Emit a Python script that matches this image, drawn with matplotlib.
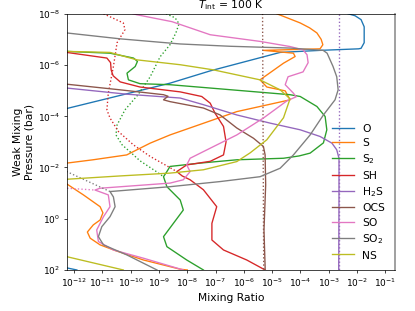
import numpy as np
import matplotlib
matplotlib.use("Agg")
import matplotlib.pyplot as plt
from matplotlib.ticker import NullLocator

# profiles: log10(pressure / bar) and log10(mixing ratio)
o_logp = [-8.00, -7.92, -7.77, -7.49, -6.87, -6.65, -6.63, -6.57, -6.49, -5.77, -5.29, -4.30, -3.5, 0.0, 1.5, 1.92, 2.00]
o_logx = [-2.32, -2.07, -1.86, -1.75, -1.75, -1.86, -1.95, -3.31, -4.72, -7.19, -8.61, -12.26, -13.5, -14.0, -13.0, -12.25, -11.9]

s_logp = [-8.00, -7.64, -7.45, -7.25, -7.00, -6.79, -6.63, -6.57, -6.46, -6.33, -6.07, -5.42, -5.14, -4.99, -4.64, -4.18,
          -3.27, -2.95, -2.49, -2.30, -2.17, -1.75, -1.36, -0.93, -0.47, -0.23, 0.05, 0.24, 0.52, 0.76,
          1.02, 1.24, 1.61, 1.97, 2.00]
s_logx = [-4.84, -4.01, -3.68, -3.42, -3.27, -3.21, -3.31, -5.31, -4.25, -4.19, -4.60, -5.43, -5.19, -4.54, -4.37, -6.25,
          -8.61, -9.31, -10.14, -11.33, -12.26, -12.9, -12.26, -11.67, -11.08, -10.98, -11.08, -11.32, -11.53, -11.43,
          -11.08, -10.55, -9.55, -8.25, -8.0]

s2_logp = [-8.00, -6.53, -6.46, -6.27, -6.14, -5.94, -5.68, -5.42, -5.27, -5.23, -5.10, -4.84, -4.77, -4.38,
           -3.99, -3.47, -2.96, -2.56, -2.45, -2.36, -2.30, -2.17, -2.04, -1.84, -1.64, -1.25, -0.73, -0.34, 0.18,
           0.70, 1.09, 1.61, 2.00]
s2_logx = [-13.5, -12.26, -10.73, -9.90, -9.76, -9.84, -10.13, -10.08, -9.67, -8.61, -7.19, -4.37, -4.01, -3.42,
           -3.13, -3.07, -3.19, -3.66, -4.05, -4.60, -6.25, -7.55, -8.61, -8.72, -8.84, -8.72, -8.25, -8.14, -8.49,
           -8.84, -8.72, -8.02, -7.43]
s2_dot_logp = [-8.00, -7.84, -7.61, -7.26, -6.79, -6.32, -5.54, -4.84, -4.25, -3.66, -3.27, -2.88, -2.61, -2.26, -1.83, -1.64]
s2_dot_logx = [-8.75, -8.43, -8.29, -8.40, -8.61, -8.96, -9.31, -9.74, -10.20, -10.48, -10.52, -10.30, -10.02, -9.67, -9.08, -8.84]

sh_logp = [-8.00, -6.49, -6.27, -6.09, -5.81, -5.58, -5.34, -5.14, -4.95, -4.77, -4.51, -4.12, -3.60, -3.00,
           -2.49, -2.24, -2.10, -1.84, -1.67, -1.52, -1.13, -0.47, 0.18, 0.83, 1.22, 1.61, 2.00]
sh_logx = [-14.0, -12.26, -10.84, -10.71, -10.69, -10.62, -10.37, -9.67, -8.25, -7.49, -7.19, -7.02, -6.72, -6.63,
           -6.72, -7.19, -8.02, -8.37, -8.18, -7.90, -7.43, -6.96, -7.13, -7.13, -6.72, -5.90, -5.25]
sh_dot_logp = [-8.00, -7.64, -7.38, -6.87, -5.94, -4.90, -4.25, -3.93, -3.40, -2.88, -2.43, -2.10, -1.84]
sh_dot_logx = [-10.96, -10.26, -10.20, -10.48, -10.61, -10.79, -10.84, -10.73, -10.43, -9.90, -9.31, -8.78, -8.37]

h2s_logp = [-8.00, -5.10, -4.86, -4.71, -4.45, -4.05, -3.73, -3.47, -3.21, -2.95, -2.69, -2.36, -0.73, 2.00]
h2s_logx = [-14.0, -12.26, -10.14, -8.25, -7.43, -6.25, -5.07, -4.01, -3.31, -2.89, -2.72, -2.64, -2.64, -2.65]
h2s_dot_logp = [-8.00, 2.00]
h2s_dot_logx = [-2.64, -2.64]

ocs_logp = [-8.00, -5.25, -5.03, -4.84, -4.78, -4.64, -4.57, -4.32, -4.05, -3.54, -3.14, -2.82, -2.49, -1.32, 0.44, 1.88, 2.00]
ocs_logx = [-14.0, -12.26, -10.37, -8.84, -8.68, -8.84, -8.61, -7.43, -6.84, -6.25, -5.66, -5.31, -5.25, -5.23, -5.29, -5.25, -5.25]
ocs_dot_logp = [-8.00, 2.00]
ocs_dot_logx = [-5.34, -5.30]

so_logp = [-8.00, -7.96, -7.69, -7.18, -6.92, -6.72, -6.59, -6.40, -6.09, -5.73, -5.54, -5.23, -4.91, -4.76, -4.60,
           -3.93, -3.27, -2.62, -2.36, -2.10, -1.84, -1.52, -1.39, -1.19, -1.12, -0.93, -0.47, -0.08, 0.44, 0.89,
           1.22, 1.54, 2.00]
so_logx = [-9.92, -9.78, -8.54, -7.19, -5.43, -4.37, -3.91, -3.77, -3.73, -3.91, -4.44, -4.54, -4.26, -4.15, -4.48,
           -5.31, -6.25, -7.43, -7.90, -8.02, -7.90, -8.14, -8.61, -11.08, -11.26, -10.79, -10.73, -10.96, -11.20, -11.14,
           -10.61, -9.55, -8.14]
so_dot_logp = [-3.00, -1.19, -1.12]
so_dot_logx = [-14.0, -12.26, -11.26]

so2_logp = [-8.00, -7.25, -7.02, -6.82, -6.73, -6.66, -6.57, -6.46, -5.94, -5.54, -5.03, -4.64, -4.05, -3.27,
            -2.49, -1.97, -1.64, -1.45, -1.25, -1.06, -0.85, -0.47, -0.08, 0.31, 0.70, 1.02, 1.41, 2.00]
so2_logx = [-13.5, -12.26, -10.37, -8.25, -6.49, -4.37, -3.20, -3.06, -2.85, -2.72, -2.67, -2.78, -3.19, -3.66,
            -4.25, -4.72, -5.43, -6.84, -8.61, -10.73, -10.61, -10.55, -10.73, -11.02, -11.14, -10.96, -10.14, -9.07]
so2_dot_logp = [-3.00, -1.84, -1.06]
so2_dot_logx = [-14.0, -12.26, -10.73]

ns_logp = [-8.00, -6.53, -6.49, -6.20, -6.01, -5.81, -5.42, -5.03, -4.68, -3.94, -3.08, -2.57, -2.23, -1.91,
           -1.78, -1.67, -1.54, -1.00, 1.00, 1.48, 2.00]
ns_logx = [-13.5, -12.26, -10.73, -9.78, -8.25, -7.08, -5.43, -4.72, -4.37, -4.60, -5.19, -5.78, -6.25, -7.43,
           -8.61, -10.37, -12.26, -13.5, -13.5, -12.26, -10.26]

labels = ["O", "S", "S$_2$", "SH", "H$_2$S", "OCS", "SO", "SO$_2$", "NS"]
solid = [(o_logx, o_logp), (s_logx, s_logp), (s2_logx, s2_logp), (sh_logx, sh_logp), (h2s_logx, h2s_logp),
         (ocs_logx, ocs_logp), (so_logx, so_logp), (so2_logx, so2_logp), (ns_logx, ns_logp)]
dotted = {2: (s2_dot_logx, s2_dot_logp), 3: (sh_dot_logx, sh_dot_logp), 4: (h2s_dot_logx, h2s_dot_logp),
          5: (ocs_dot_logx, ocs_dot_logp), 6: (so_dot_logx, so_dot_logp), 7: (so2_dot_logx, so2_dot_logp)}

fig, ax = plt.subplots(figsize=(6.4, 4.8), dpi=64.85)
fig.subplots_adjust(left=0.1607, right=0.9518, top=0.955, bottom=0.1318)

for i, (lx, lp) in enumerate(solid):
    ax.plot(10.0 ** np.array(lx), 10.0 ** np.array(lp), color="C%d" % i, lw=1.5, label=labels[i])
    if i in dotted:
        dx, dp = dotted[i]
        ax.plot(10.0 ** np.array(dx), 10.0 ** np.array(dp), color="C%d" % i, lw=1.5, ls=":")

ax.set_xscale("log")
ax.set_yscale("log")
ax.set_xlim(10 ** -12.26, 10 ** -0.66)
ax.set_ylim(1e2, 1e-8)
ax.set_xticks([10.0 ** k for k in range(-12, 0)])
ax.set_yticks([10.0 ** k for k in range(-8, 3, 2)])
ax.xaxis.set_minor_locator(NullLocator())
ax.yaxis.set_minor_locator(NullLocator())
ax.tick_params(labelsize=10)
ax.spines["right"].set_color("0.6")
ax.spines["right"].set_linewidth(2)

ax.set_xlabel("Mixing Ratio", fontsize=12)
ax.set_ylabel("Weak Mixing\nPressure (bar)", fontsize=12)
ax.set_title(r"$T_{\rm int}$ = 100 K", fontsize=12)
ax.legend(loc="lower right", frameon=False, fontsize=12, labelspacing=0.41)

fig.savefig("out.png", dpi=64.85)
